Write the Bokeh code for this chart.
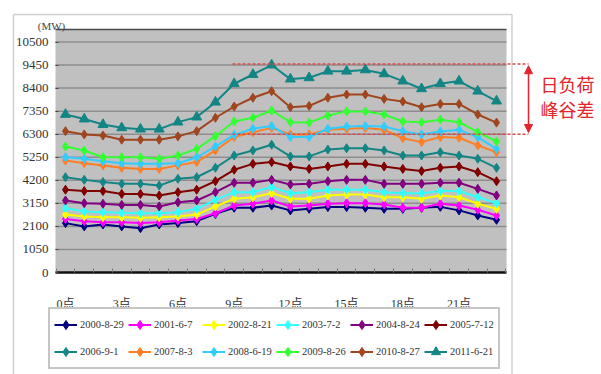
from bokeh.plotting import figure
from bokeh.models import (Range1d, LinearAxis, FixedTicker, Legend, LegendItem,
                          Arrow, NormalHead, Label)
from bokeh.embed import file_html
from bokeh.resources import INLINE

# ---- data: daily load curves (MW) for the annual peak day of each year ----
hours = list(range(24))
hour_ticks = [0, 3, 6, 9, 12, 15, 18, 21]
hour_labels = ["0点", "3点", "6点", "9点", "12点", "15点", "18点", "21点"]
mw_ticks = [0, 1050, 2100, 3150, 4200, 5250, 6300, 7350, 8400, 9450, 10500]

dates = ["2000-8-29", "2001-6-7", "2002-8-21", "2003-7-2", "2004-8-24", "2005-7-12",
         "2006-9-1", "2007-8-3", "2008-6-19", "2009-8-26", "2010-8-27", "2011-6-21"]

load_2000 = [2250, 2100, 2190, 2100, 2020, 2190, 2250, 2340, 2670, 2950, 2950, 3050,
             2830, 2900, 2980, 2980, 2950, 2900, 2900, 2950, 2990, 2830, 2600, 2400]
load_2001 = [2440, 2340, 2290, 2290, 2250, 2290, 2370, 2440, 2700, 3050, 3130, 3280,
             3010, 3050, 3130, 3160, 3160, 3100, 2950, 2950, 3130, 3050, 2860, 2600]
load_2002 = [2640, 2550, 2520, 2520, 2490, 2520, 2550, 2640, 3010, 3360, 3430, 3610,
             3360, 3360, 3510, 3550, 3550, 3430, 3430, 3360, 3510, 3430, 3130, 2900]
load_2003 = [2930, 2780, 2750, 2720, 2700, 2700, 2750, 2900, 3310, 3660, 3660, 3890,
             3610, 3660, 3770, 3770, 3770, 3660, 3610, 3610, 3710, 3710, 3430, 3160]
load_2004 = [3280, 3160, 3130, 3080, 3080, 3010, 3200, 3280, 3660, 4090, 4090, 4220,
             4010, 4040, 4160, 4220, 4220, 4040, 4040, 4040, 4090, 4090, 3810, 3510]
load_2005 = [3770, 3710, 3710, 3580, 3580, 3510, 3660, 3770, 4160, 4680, 4950, 5030,
             4830, 4720, 4830, 4950, 4950, 4830, 4720, 4620, 4770, 4830, 4570, 4160]
load_2006 = [4340, 4220, 4120, 4040, 4040, 3960, 4270, 4340, 4770, 5330, 5560, 5820,
             5290, 5290, 5600, 5660, 5660, 5560, 5330, 5330, 5480, 5330, 5180, 4770]
load_2007 = [5100, 4980, 4880, 4770, 4720, 4720, 4880, 5030, 5560, 6170, 6390, 6590,
             6290, 6290, 6500, 6550, 6580, 6500, 6120, 5940, 6170, 6140, 5790, 5480]
load_2008 = [5250, 5180, 5070, 4980, 4950, 4950, 4980, 5250, 5740, 6270, 6550, 6670,
             6170, 6170, 6550, 6650, 6670, 6650, 6440, 6290, 6420, 6500, 6170, 5630]
load_2009 = [5740, 5560, 5250, 5250, 5250, 5180, 5330, 5630, 6210, 6880, 7050, 7380,
             6850, 6830, 7150, 7340, 7340, 7200, 6880, 6850, 6960, 6850, 6390, 5970]
load_2010 = [6440, 6290, 6240, 6050, 6050, 6050, 6200, 6440, 7050, 7560, 7960, 8260,
             7530, 7590, 7960, 8110, 8110, 7910, 7790, 7530, 7680, 7680, 7200, 6830]
load_2011 = [7200, 6990, 6740, 6590, 6530, 6530, 6850, 7080, 7760, 8600, 9020, 9450,
             8810, 8870, 9170, 9170, 9230, 9050, 8720, 8370, 8600, 8720, 8260, 7810]

loads = [load_2000, load_2001, load_2002, load_2003, load_2004, load_2005,
         load_2006, load_2007, load_2008, load_2009, load_2010, load_2011]

# peak-valley band marked on the right
band_levels = [9500, 6300]

# ---- styles ----
colors = ["#000080", "#ff00ff", "#ffff00", "#33ffff", "#800080", "#800000",
          "#138585", "#ff7f27", "#33ccff", "#33ff33", "#a0461e", "#138585"]
markers = ["diamond"] * 11 + ["triangle"]

W, H = 601, 374
HOUR_PX, HOUR0_PX = 18.74, 65.0      # pixels per hour, pixel of hour 0
MW_PX, MW0_PY = 0.02195, 272.0       # pixels per MW, pixel row of 0 MW

def hx(px):
    return (px - HOUR0_PX) / HOUR_PX

def mwy(py):
    return (MW0_PY - py) / MW_PX

AREA_LEFT, AREA_RIGHT = hx(55), hx(506)
AREA_TOP = mwy(29)

p = figure(width=W, height=H, output_backend="svg", toolbar_location=None,
           x_range=Range1d(hx(0), hx(W)), y_range=Range1d(mwy(H), mwy(0)),
           x_axis_type=None, y_axis_type=None, min_border=0,
           background_fill_color="white", border_fill_color="white",
           outline_line_color=None)
p.xgrid.visible = False
p.ygrid.visible = False

# outer chart frame
p.segment(x0=[hx(13), hx(13), hx(511.5)], y0=[mwy(14), mwy(14), mwy(14)],
          x1=[hx(13), hx(511.5), hx(511.5)], y1=[mwy(H + 5), mwy(14), mwy(H + 5)],
          line_color="#cfcfcf", line_width=1.5)

# plot area background, gridlines and top border
p.quad(left=AREA_LEFT, right=AREA_RIGHT, bottom=0, top=AREA_TOP,
       fill_color="#c0c0c0", line_color=None)
p.segment(x0=AREA_LEFT, x1=AREA_RIGHT, y0=mw_ticks[1:], y1=mw_ticks[1:],
          line_color="#8e8e8e", line_width=1.5)
p.segment(x0=[AREA_LEFT], x1=[AREA_RIGHT], y0=[AREA_TOP], y1=[AREA_TOP],
          line_color="#4a4a4a", line_width=1.5)

# axes
label_font = "'Liberation Serif', 'Noto Sans CJK SC'"
yaxis = LinearAxis(fixed_location=AREA_LEFT, bounds=(0, AREA_TOP),
                   ticker=FixedTicker(ticks=mw_ticks),
                   axis_line_color=None, major_tick_in=3, major_tick_out=0,
                   major_tick_line_color="#444444", minor_tick_line_color=None,
                   major_label_standoff=7, major_label_text_font=label_font,
                   major_label_text_font_size="13px",
                   major_label_text_color="#333333")
p.add_layout(yaxis, "left")

xaxis = LinearAxis(fixed_location=0, bounds=(AREA_LEFT, AREA_RIGHT),
                   ticker=FixedTicker(ticks=hour_ticks,
                                      minor_ticks=[h - 0.5 for h in range(25)]),
                   major_label_overrides={h: lab for h, lab in zip(hour_ticks, hour_labels)},
                   axis_line_color="#111111", axis_line_width=2.5,
                   major_tick_line_color=None, minor_tick_in=4, minor_tick_out=0,
                   minor_tick_line_color="#777777",
                   major_label_standoff=18, major_label_text_font=label_font,
                   major_label_text_font_size="12px",
                   major_label_text_color="#333333")
p.add_layout(xaxis, "below")

p.add_layout(Label(x=hx(51), y=mwy(25), text="(MW)", text_font=label_font,
                   text_font_size="11px", text_color="#444444",
                   text_align="center", text_baseline="middle"))

# load curves
items = []
for name, vals, color, marker in zip(dates, loads, colors, markers):
    ln = p.line(hours, vals, line_color=color, line_width=2)
    sc = p.scatter(hours, vals, marker=marker, size=10 if marker == "triangle" else 9,
                   fill_color=color, line_color=color)
    items.append(LegendItem(label=name, renderers=[ln, sc]))

legend = Legend(items=items, location=(48, 5), orientation="horizontal", nrows=2,
                border_line_color="#8c8c8c", border_line_width=2,
                background_fill_color="white", background_fill_alpha=1.0,
                padding=4, spacing=4, margin=0,
                glyph_width=23, glyph_height=23, label_height=23,
                label_standoff=3, label_width=44,
                label_text_font=label_font, label_text_font_size="10.5px",
                label_text_color="#333333")
p.add_layout(legend)

# peak-valley band: dashed guides, double arrow and caption
RED = "#e3242b"
p.segment(x0=hx(232), x1=hx(528), y0=band_levels, y1=band_levels,
          line_color="#d94a4a", line_width=1.5, line_dash="3 2")
p.add_layout(Arrow(x_start=hx(528), y_start=band_levels[1] + 80,
                   x_end=hx(528), y_end=band_levels[0] - 80,
                   line_color=RED, line_width=1.5,
                   start=NormalHead(size=8, fill_color=RED, line_color=RED),
                   end=NormalHead(size=8, fill_color=RED, line_color=RED)))
for txt, py in (("日负荷", 83), ("峰谷差", 108)):
    p.add_layout(Label(x=hx(567), y=mwy(py), text=txt, text_font="Noto Sans CJK SC",
                       text_font_size="18px", text_color=RED,
                       text_align="center", text_baseline="middle"))

open("out.html", "w").write(file_html(p, INLINE))
